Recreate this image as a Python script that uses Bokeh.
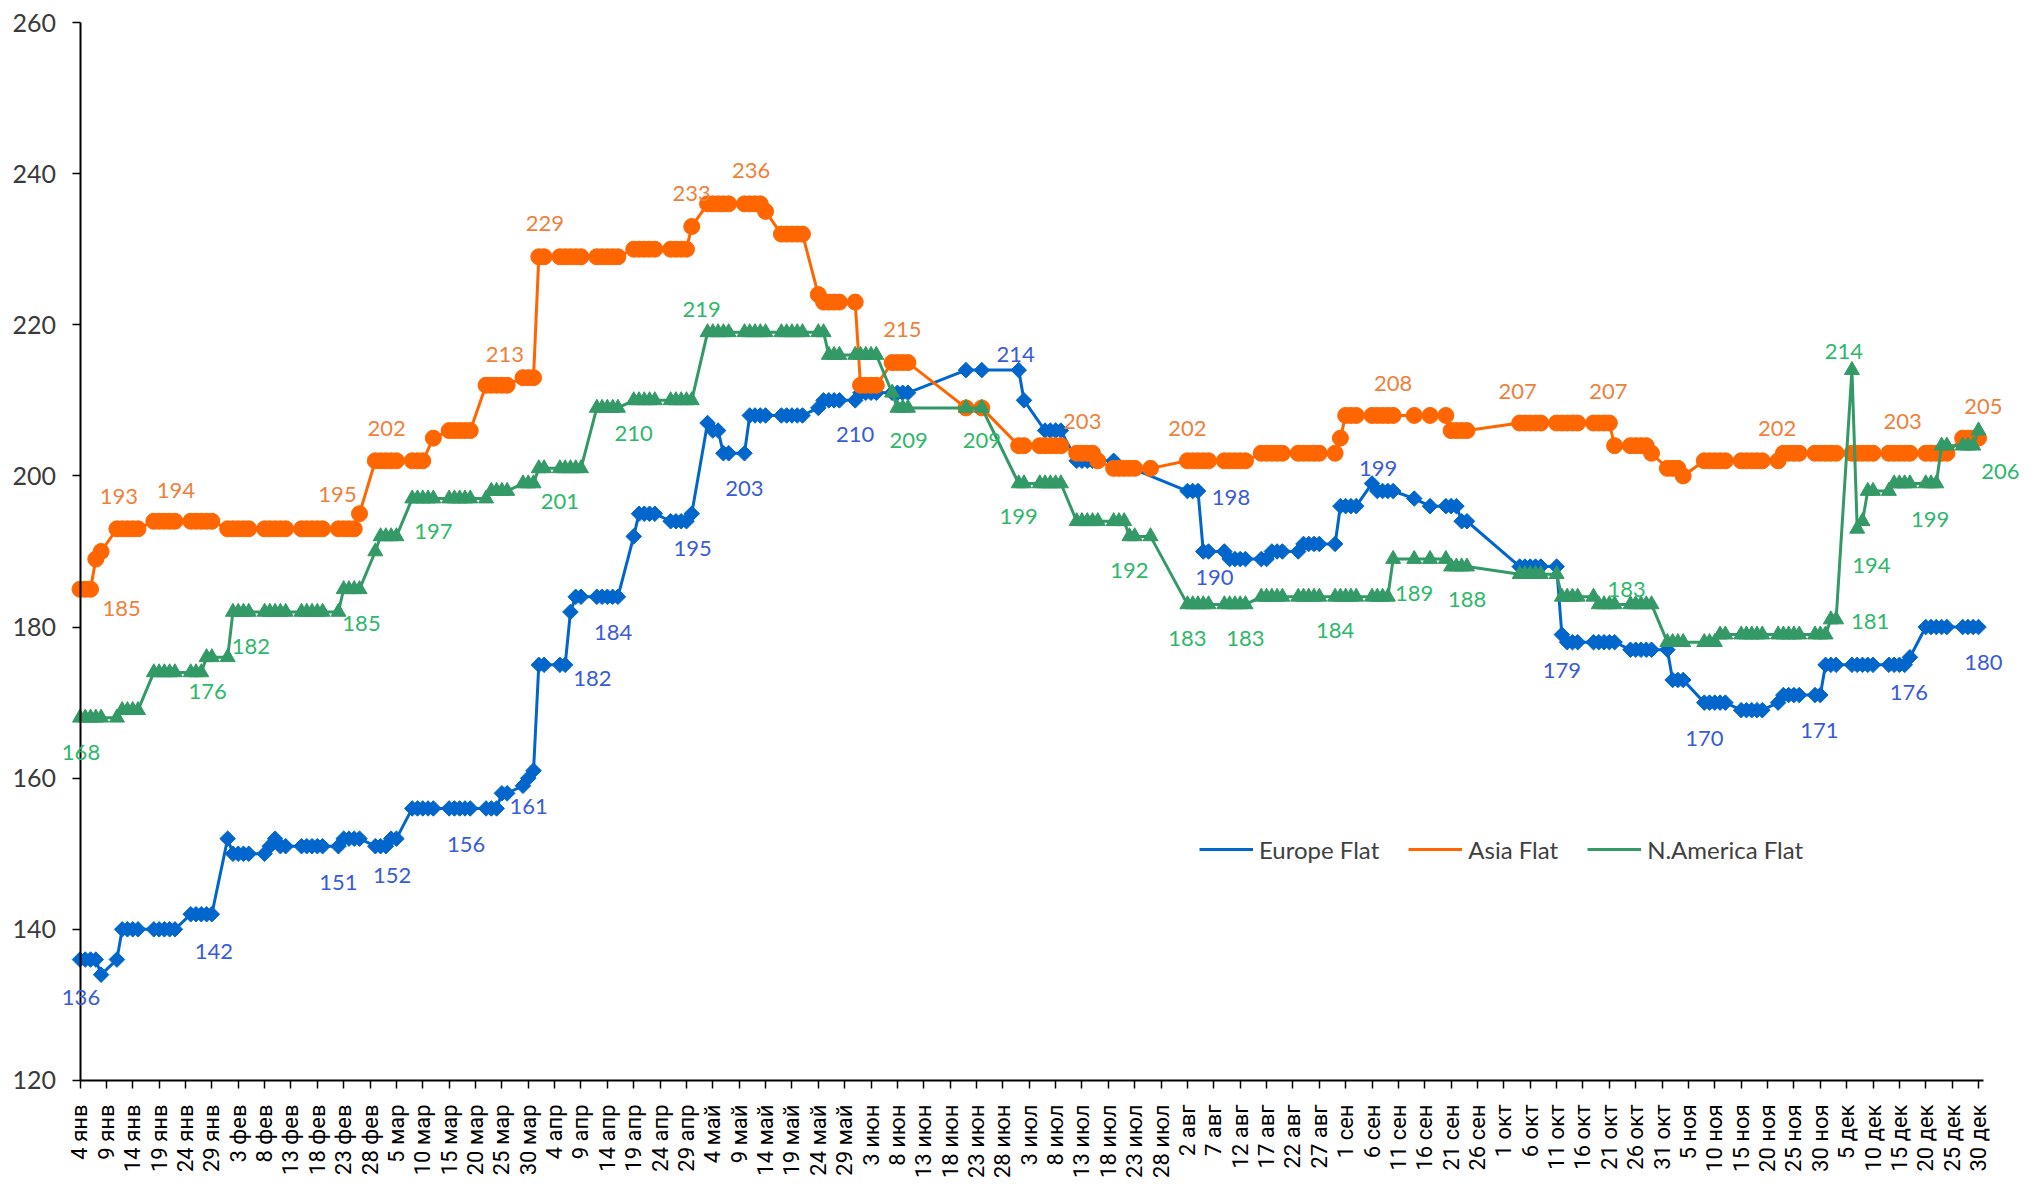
import datetime as dt
import numpy as np
import pandas as pd
from bokeh.plotting import figure
from bokeh.models import (ColumnDataSource, LabelSet, Legend, LegendItem,
                          FixedTicker, Range1d)
from bokeh.core.properties import value
from bokeh.embed import file_html
from bokeh.resources import INLINE

N = None
START = dt.date(2021, 1, 4)
END = dt.date(2021, 12, 30)
MONTHS_RU = ["янв", "фев", "мар", "апр", "май", "июн",
             "июл", "авг", "сен", "окт", "ноя", "дек"]

# business days of the series (Mon..Fri)
business_days = list(pd.bdate_range(START, END).date)

# x tick labels every 5 days
tick_days = list(range(0, 361, 5))
tick_dates = [START + dt.timedelta(days=t) for t in tick_days]
tick_labels = [f"{d.day} {MONTHS_RU[d.month - 1]}" for d in tick_dates]
y_ticks = [120, 140, 160, 180, 200, 220, 240, 260]

# ---- series values, one row per week (Mon..Fri) ----
europe = [
    136, 136, 136, 136, 134,   # 4 янв
    136, 140, 140, 140, 140,
    140, 140, 140, 140, 140,
    142, 142, 142, 142, 142,
    152, 150, 150, 150, 150,   # 1 фев
    150, 151, 152, 151, 151,
    151, 151, 151, 151, 151,
    151, 152, 152, 152, 152,
    151, 151, 151, 152, 152,   # 1 мар
    156, 156, 156, 156, 156,
    156, 156, 156, 156, 156,
    156, 156, 156, 158, 158,
    159, 160, 161, 175, 175,   # 29 мар
    175, 175, 182, 184, 184,
    184, 184, 184, 184, 184,
    192, 195, 195, 195, 195,
    194, 194, 194, 194, 195,
    207, 206, 206, 203, 203,   # 3 май
    203, 208, 208, 208, 208,
    208, 208, 208, 208, 208,
    209, 210, 210, 210, 210,
    210, 211, 211, 211, 211,   # 31 май
    211, 211, 211, 211, N,
    N, N, N, N, N,
    214, N, N, 214, N,
    N, N, N, 214, 210,         # 28 июн
    N, 206, 206, 206, 206,
    202, 202, 202, 202, 202,
    202, N, N, N, N,
    N, N, N, N, N,
    198, 198, 198, 190, 190,   # 2 авг
    190, 189, 189, 189, 189,
    189, 189, 190, 190, 190,
    190, 191, 191, 191, 191,
    191, 196, 196, 196, 196,   # 30 авг
    199, 198, 198, 198, 198,
    N, 197, N, N, 196,
    196, 196, 196, 194, 194,
    N, N, N, N, N,
    188, 188, 188, 188, 188,   # 4 окт
    188, 179, 178, 178, 178,
    178, 178, 178, 178, 178,
    177, 177, 177, 177, 177,
    177, 173, 173, 173, N,     # 1 ноя
    170, 170, 170, 170, 170,
    169, 169, 169, 169, 169,
    170, 171, 171, 171, 171,
    171, 171, 175, 175, 175,   # 29 ноя
    175, 175, 175, 175, 175,
    175, 175, 175, 175, 176,
    180, 180, 180, 180, 180,
    180, 180, 180, 180,
]

asia = [
    185, 185, 185, 189, 190,
    193, 193, 193, 193, 193,
    194, 194, 194, 194, 194,
    194, 194, 194, 194, 194,
    193, 193, 193, 193, 193,
    193, 193, 193, 193, 193,
    193, 193, 193, 193, 193,
    193, 193, 193, 193, 195,
    202, 202, 202, 202, 202,
    202, 202, 202, N, 205,
    206, 206, 206, 206, 206,
    212, 212, 212, 212, 212,
    213, 213, 213, 229, 229,
    229, 229, 229, 229, 229,
    229, 229, 229, 229, 229,
    230, 230, 230, 230, 230,
    230, 230, 230, 230, 233,
    236, 236, 236, 236, 236,
    236, 236, 236, 236, 235,
    232, 232, 232, 232, 232,
    224, 223, 223, 223, 223,
    223, 212, 212, 212, 212,
    215, 215, 215, 215, N,
    N, N, N, N, N,
    209, N, N, 209, N,
    N, N, N, 204, 204,
    204, 204, 204, 204, 204,
    203, 203, 203, 203, 202,
    201, 201, 201, 201, 201,
    201, N, N, N, N,
    202, 202, 202, 202, 202,
    202, 202, 202, 202, 202,
    203, 203, 203, 203, 203,
    203, 203, 203, 203, 203,
    203, 205, 208, 208, 208,
    208, 208, 208, 208, 208,
    N, 208, N, N, 208,
    208, 206, 206, 206, 206,
    N, N, N, N, N,
    207, 207, 207, 207, 207,
    207, 207, 207, 207, 207,
    207, 207, 207, 207, 204,
    204, 204, 204, 204, 203,
    201, 201, 201, 200, N,
    202, 202, 202, 202, 202,
    202, 202, 202, 202, 202,
    202, 203, 203, 203, 203,
    203, 203, 203, 203, 203,
    203, 203, 203, 203, 203,
    203, 203, 203, 203, 203,
    203, 203, 203, 203, 203,
    205, 205, 205, 205,
]

namerica = [
    168, 168, 168, 168, 168,
    168, 169, 169, 169, 169,
    174, 174, 174, 174, 174,
    174, 174, 174, 176, 176,
    176, 182, 182, 182, 182,
    182, 182, 182, 182, 182,
    182, 182, 182, 182, 182,
    182, 185, 185, 185, 185,
    190, 192, 192, 192, 192,
    197, 197, 197, 197, 197,
    197, 197, 197, 197, 197,
    197, 198, 198, 198, 198,
    199, 199, 199, 201, 201,
    201, 201, 201, 201, 201,
    209, 209, 209, 209, 209,
    210, 210, 210, 210, 210,
    210, 210, 210, 210, 210,
    219, 219, 219, 219, 219,
    219, 219, 219, 219, 219,
    219, 219, 219, 219, 219,
    219, 219, 216, 216, 216,
    216, 216, 216, 216, 216,
    211, 209, 209, 209, N,
    N, N, N, N, N,
    209, N, N, 209, N,
    N, N, N, 199, 199,
    199, 199, 199, 199, 199,
    194, 194, 194, 194, 194,
    194, 194, 194, 192, 192,
    192, N, N, N, N,
    183, 183, 183, 183, 183,
    183, 183, 183, 183, 183,
    184, 184, 184, 184, 184,
    184, 184, 184, 184, 184,
    184, 184, 184, 184, 184,
    184, 184, 184, 184, 189,
    N, 189, N, N, 189,
    189, 188, 188, 188, 188,
    N, N, N, N, N,
    187, 187, 187, 187, 187,
    187, 184, 184, 184, 184,
    184, 183, 183, 183, 183,
    183, 183, 183, 183, 183,
    178, 178, 178, 178, N,
    178, 178, 178, 179, 179,
    179, 179, 179, 179, 179,
    179, 179, 179, 179, 179,
    179, 179, 179, 181, 181,
    214, 193, 194, 198, 198,
    198, 199, 199, 199, 199,
    199, 199, 199, 204, 204,
    204, 204, 204, 206,
]

series_names = ["Europe Flat", "Asia Flat", "N.America Flat"]

# data labels: anchor date of the labelled point
europe_label_dates = ["01-04", "01-29", "02-22", "03-04", "03-19", "03-31", "04-07",
                      "04-13", "04-30", "05-10", "05-31", "07-01", "08-04", "08-05",
                      "09-06", "10-12", "11-08", "11-30", "12-17", "12-30"]
asia_label_dates = ["01-06", "01-11", "01-22", "02-26", "03-02", "03-29", "04-01",
                    "04-30", "05-12", "06-08", "07-14", "08-02", "09-10", "10-04",
                    "10-21", "11-22", "12-16", "12-30"]
namerica_label_dates = ["01-04", "01-28", "02-02", "02-26", "03-12", "04-05", "04-19",
                        "05-03", "06-09", "06-24", "07-01", "07-22", "08-02", "08-13",
                        "08-30", "09-14", "09-21", "10-22", "12-06", "12-08", "12-03",
                        "12-21", "12-30"]

# ---- styles / placement (screen px, +down) ----
europe_label_off = [(1, 38), (2, 37), (0, 36), (1, 37), (-4, 36), (-5, 36), (22, 67),
                    (11, 36), (1, 35), (0, 35), (0, 34), (-3, -16), (33, 6), (11, 26),
                    (6, -15), (0, 36), (0, 36), (-1, 35), (-1, 35), (5, 35)]
asia_label_off = [(31, 19), (2, -32), (1, -31), (-22, -19), (6, -32), (-18, -23), (6, -33),
                  (0, -33), (-4, -33), (5, -33), (-5, -32), (0, -32), (0, -32), (-2, -32),
                  (-1, -32), (-1, -32), (-2, -32), (5, -32)]
namerica_label_off = [(1, 35), (1, 34), (18, 35), (2, 34), (0, 33), (0, 33), (0, 33),
                      (-6, -23), (6, 33), (0, 33), (0, 33), (0, 34), (0, 34), (0, 34),
                      (0, 34), (0, 34), (16, 33), (12, -15), (-8, -19), (9, 44), (34, 2),
                      (-1, 36), (22, 41)]

LINE_COLORS = ["#0066CC", "#FF6600", "#339966"]
LABEL_COLORS = ["#3A5BD9", "#F07F3A", "#2DB86A"]
LABEL_FONT = "Lato"
TICK_FONT = "Roboto"

# layout (pixels); the frame covers the whole canvas, axes are pinned to data
AXIS_PX = 79.5          # screen x of the first day
PX_PER_DAY = 5.2736
AXIS_TOP_PX = 22        # screen y of 260
PX_PER_UNIT = 7.557
FRAME_W = 2030
FRAME_H = 1183
Y_MIN, Y_MAX = 120, 260

for s in (europe, asia, namerica):
    assert len(s) == len(business_days), (len(s), len(business_days))


def day_index(d):
    return (d - START).days


def series_source(vals):
    xs = [day_index(d) for d, v in zip(business_days, vals) if v is not None]
    ys = [v for v in vals if v is not None]
    return ColumnDataSource(dict(x=xs, y=ys))


def label_source(vals, dates, offs):
    lookup = {d.strftime("%m-%d"): (day_index(d), v) for d, v in zip(business_days, vals)}
    xs, ys, txt, dx, dy = [], [], [], [], []
    for k, (ox, oy) in zip(dates, offs):
        x, v = lookup[k]
        xs.append(x); ys.append(v); txt.append(str(v)); dx.append(ox); dy.append(-oy)
    return ColumnDataSource(dict(x=xs, y=ys, text=txt, dx=dx, dy=dy))


x_start = -AXIS_PX / PX_PER_DAY
x_end = (FRAME_W - AXIS_PX) / PX_PER_DAY
y_top = Y_MAX + AXIS_TOP_PX / PX_PER_UNIT
y_bottom = Y_MAX - (FRAME_H - AXIS_TOP_PX) / PX_PER_UNIT

p = figure(frame_width=FRAME_W, frame_height=FRAME_H,
           x_range=Range1d(x_start, x_end), y_range=Range1d(y_bottom, y_top),
           output_backend="svg", toolbar_location=None,
           min_border_left=0, min_border_right=0, min_border_top=0, min_border_bottom=0)
p.xgrid.grid_line_color = None
p.ygrid.grid_line_color = None
p.outline_line_color = None
p.background_fill_color = "white"

p.xaxis.ticker = FixedTicker(ticks=tick_days, minor_ticks=[])
p.xaxis.bounds = (0, 361)
p.xaxis.fixed_location = Y_MIN
p.xaxis.major_label_overrides = {t: lab for t, lab in zip(tick_days, tick_labels)}
p.xaxis.major_label_orientation = np.pi / 2
p.xaxis.major_label_text_font = TICK_FONT
p.xaxis.major_label_text_font_size = "22px"
p.xaxis.major_label_text_color = "#000000"
p.xaxis.major_label_standoff = 16
p.yaxis.ticker = FixedTicker(ticks=y_ticks, minor_ticks=[])
p.yaxis.bounds = (Y_MIN, Y_MAX)
p.yaxis.fixed_location = 0
p.yaxis.major_label_text_font = LABEL_FONT
p.yaxis.major_label_text_font_size = "25px"
p.yaxis.major_label_text_color = "#3a3a3a"
p.yaxis.major_label_standoff = 16
for ax in (p.xaxis, p.yaxis):
    ax.axis_line_color = "#000000"
    ax.axis_line_width = 2
    ax.major_tick_line_color = "#000000"
    ax.major_tick_line_width = 1.5
    ax.major_tick_out = 8
    ax.major_tick_in = 0
    ax.minor_tick_out = 0
    ax.minor_tick_in = 0

markers = [dict(marker="square", angle=np.pi / 4, size=11),
           dict(marker="circle", size=16),
           dict(marker="triangle", size=15)]
legend_markers = ["diamond", "circle", "triangle"]

items = []
for name, vals, col, mk, lmk in zip(series_names, [europe, asia, namerica], LINE_COLORS,
                                    markers, legend_markers):
    src = series_source(vals)
    ln = p.line("x", "y", source=src, line_color=col, line_width=3, line_join="round")
    p.scatter("x", "y", source=src, fill_color=col, line_color=col, **mk)
    dummy = p.scatter(x=[], y=[], marker=lmk, size=16, fill_color=col, line_color=col)
    items.append(LegendItem(label=name, renderers=[ln, dummy]))

for vals, dates, offs, col in zip([europe, asia, namerica],
                                  [europe_label_dates, asia_label_dates, namerica_label_dates],
                                  [europe_label_off, asia_label_off, namerica_label_off],
                                  LABEL_COLORS):
    ls = LabelSet(x="x", y="y", text="text", source=label_source(vals, dates, offs),
                  x_offset="dx", y_offset="dy", text_align="center", text_baseline="middle",
                  text_font=value(LABEL_FONT), text_font_size="22px", text_color=col)
    p.add_layout(ls)

legend_bottom = FRAME_H - 849 - 20   # legend centred on screen y 849
legend = Legend(items=items, location=(1199, legend_bottom), orientation="horizontal",
                glyph_width=54, glyph_height=40, label_standoff=6, spacing=29,
                padding=0, margin=0, border_line_alpha=0, background_fill_alpha=0,
                label_text_font=LABEL_FONT, label_text_font_size="24px",
                label_text_color="#404040")
p.add_layout(legend)

open("out.html", "w").write(file_html(p, INLINE))
